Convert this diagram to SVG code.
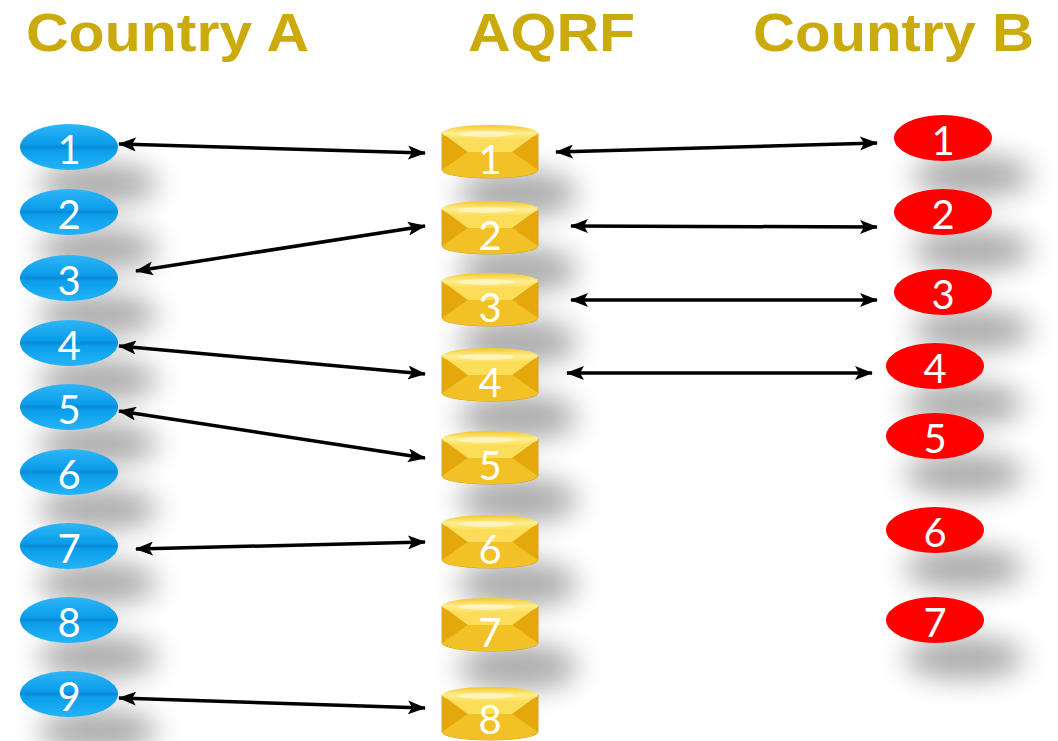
<svg xmlns="http://www.w3.org/2000/svg" xmlns:xlink="http://www.w3.org/1999/xlink" width="1058" height="741" viewBox="0 0 1058 741">
<defs>
<style>
.title{font-family:"Liberation Sans","Open Sans",sans-serif;font-weight:bold;font-size:54px;fill:#CBAA0C}
.num{font-family:"Lato","Liberation Sans",sans-serif;font-size:40px;fill:#fff;text-anchor:middle}
.red{fill:#FF0000}
.blue{fill:url(#gBlue)}
.shadow{fill:#000;opacity:0.32;filter:url(#blur)}
.conn{stroke:#000;stroke-width:3.5;fill:none;marker-start:url(#ah);marker-end:url(#ah)}
</style>
<filter id="blur" x="-60%" y="-100%" width="220%" height="300%"><feGaussianBlur stdDeviation="14"/></filter>
<linearGradient id="gBlue" x1="0" y1="0" x2="0" y2="1">
<stop offset="0" stop-color="#2EB6F7"/><stop offset="0.44" stop-color="#0A9DEA"/><stop offset="0.5" stop-color="#0A86D6"/><stop offset="0.56" stop-color="#0A9DEA"/><stop offset="1" stop-color="#24B4F7"/>
</linearGradient>
<linearGradient id="gBody" x1="0" y1="0" x2="1" y2="0">
<stop offset="0" stop-color="#E3A90A"/><stop offset="0.5" stop-color="#F8D43A"/><stop offset="1" stop-color="#E3A90A"/>
</linearGradient>
<linearGradient id="gCap" x1="0" y1="0" x2="0" y2="1">
<stop offset="0" stop-color="#F3C62A"/><stop offset="0.5" stop-color="#FFEE90"/><stop offset="1" stop-color="#F9DA50"/>
</linearGradient>
<marker id="ah" viewBox="0 0 18 14" refX="17" refY="7" markerWidth="18" markerHeight="14" markerUnits="userSpaceOnUse" orient="auto-start-reverse">
<path d="M0,0 L18,7 L0,14 L4,7 Z" fill="#000"/>
</marker>
<g id="cyl">
<path d="M-48,-19 L-48,18 A48,8 0 0 0 48,18 L48,-19 Z" fill="url(#gBody)" stroke="#C99200" stroke-width="0.8"/>
<path d="M-48,-19 L-22,0 L-48,18 Z" fill="#E5A80C"/>
<path d="M48,-19 L22,0 L48,18 Z" fill="#E5A80C"/>
<path d="M-48,-19 L-22,0 L22,0 L48,-19 Z" fill="#FBDD5A"/>
<path d="M-48,18 L-22,0 L22,0 L48,18 A48,8 0 0 1 -48,18 Z" fill="#F2C126"/>
<ellipse cx="0" cy="-19" rx="48" ry="8" fill="url(#gCap)"/>
<ellipse cx="-4" cy="-18" rx="28" ry="3" fill="#fff" opacity="0.45"/>
</g>
</defs>
<rect width="1058" height="741" fill="#fff"/>

<g id="shadows">
<ellipse class="shadow" cx="98" cy="184" rx="60" ry="22"/>
<ellipse class="shadow" cx="98" cy="249" rx="60" ry="22"/>
<ellipse class="shadow" cx="98" cy="315" rx="60" ry="22"/>
<ellipse class="shadow" cx="98" cy="380" rx="60" ry="22"/>
<ellipse class="shadow" cx="98" cy="444" rx="60" ry="22"/>
<ellipse class="shadow" cx="98" cy="509" rx="60" ry="22"/>
<ellipse class="shadow" cx="98" cy="583" rx="60" ry="22"/>
<ellipse class="shadow" cx="98" cy="657" rx="60" ry="22"/>
<ellipse class="shadow" cx="98" cy="731" rx="60" ry="22"/>
<ellipse class="shadow" cx="518" cy="194" rx="60" ry="24"/>
<ellipse class="shadow" cx="518" cy="270" rx="60" ry="24"/>
<ellipse class="shadow" cx="518" cy="342" rx="60" ry="24"/>
<ellipse class="shadow" cx="518" cy="417" rx="60" ry="24"/>
<ellipse class="shadow" cx="518" cy="500" rx="60" ry="24"/>
<ellipse class="shadow" cx="518" cy="584" rx="60" ry="24"/>
<ellipse class="shadow" cx="518" cy="667" rx="60" ry="24"/>
<ellipse class="shadow" cx="972" cy="176" rx="60" ry="22"/>
<ellipse class="shadow" cx="972" cy="250" rx="60" ry="22"/>
<ellipse class="shadow" cx="972" cy="330" rx="60" ry="22"/>
<ellipse class="shadow" cx="964" cy="404" rx="60" ry="22"/>
<ellipse class="shadow" cx="964" cy="474" rx="60" ry="22"/>
<ellipse class="shadow" cx="964" cy="568" rx="60" ry="22"/>
<ellipse class="shadow" cx="964" cy="658" rx="60" ry="22"/>
</g>

<g id="titles">
<text class="title" x="26" y="51" textLength="283" lengthAdjust="spacingAndGlyphs">Country A</text>
<text class="title" x="468" y="51" textLength="167" lengthAdjust="spacingAndGlyphs">AQRF</text>
<text class="title" x="753" y="51" textLength="281" lengthAdjust="spacingAndGlyphs">Country B</text>
</g>

<g id="a1"><ellipse class="blue" cx="69" cy="147" rx="49" ry="23"/><text class="num" x="69" y="164">1</text></g>
<g id="a2"><ellipse class="blue" cx="69" cy="212" rx="49" ry="23"/><text class="num" x="69" y="229">2</text></g>
<g id="a3"><ellipse class="blue" cx="69" cy="278" rx="49" ry="23"/><text class="num" x="69" y="295">3</text></g>
<g id="a4"><ellipse class="blue" cx="69" cy="343" rx="49" ry="23"/><text class="num" x="69" y="360">4</text></g>
<g id="a5"><ellipse class="blue" cx="69" cy="407" rx="49" ry="23"/><text class="num" x="69" y="424">5</text></g>
<g id="a6"><ellipse class="blue" cx="69" cy="472" rx="49" ry="23"/><text class="num" x="69" y="489">6</text></g>
<g id="a7"><ellipse class="blue" cx="69" cy="546" rx="49" ry="23"/><text class="num" x="69" y="563">7</text></g>
<g id="a8"><ellipse class="blue" cx="69" cy="620" rx="49" ry="23"/><text class="num" x="69" y="637">8</text></g>
<g id="a9"><ellipse class="blue" cx="69" cy="694" rx="49" ry="23"/><text class="num" x="69" y="711">9</text></g>

<g id="q1"><use xlink:href="#cyl" x="490" y="152"/><text class="num" x="490" y="174">1</text></g>
<g id="q2"><use xlink:href="#cyl" x="490" y="228"/><text class="num" x="490" y="250">2</text></g>
<g id="q3"><use xlink:href="#cyl" x="490" y="300"/><text class="num" x="490" y="322">3</text></g>
<g id="q4"><use xlink:href="#cyl" x="490" y="375"/><text class="num" x="490" y="397">4</text></g>
<g id="q5"><use xlink:href="#cyl" x="490" y="458"/><text class="num" x="490" y="480">5</text></g>
<g id="q6"><use xlink:href="#cyl" x="490" y="542"/><text class="num" x="490" y="564">6</text></g>
<g id="q7"><use xlink:href="#cyl" x="490" y="625"/><text class="num" x="490" y="647">7</text></g>
<g id="q8"><use xlink:href="#cyl" x="490" y="714"/><text class="num" x="490" y="734">8</text></g>

<g id="b1"><ellipse class="red" cx="943" cy="138" rx="49" ry="23"/><text class="num" x="943" y="155">1</text></g>
<g id="b2"><ellipse class="red" cx="943" cy="212" rx="49" ry="23"/><text class="num" x="943" y="229">2</text></g>
<g id="b3"><ellipse class="red" cx="943" cy="292" rx="49" ry="23"/><text class="num" x="943" y="309">3</text></g>
<g id="b4"><ellipse class="red" cx="935" cy="366" rx="49" ry="23"/><text class="num" x="935" y="383">4</text></g>
<g id="b5"><ellipse class="red" cx="935" cy="436" rx="49" ry="23"/><text class="num" x="935" y="453">5</text></g>
<g id="b6"><ellipse class="red" cx="935" cy="530" rx="49" ry="23"/><text class="num" x="935" y="547">6</text></g>
<g id="b7"><ellipse class="red" cx="935" cy="620" rx="49" ry="23"/><text class="num" x="935" y="637">7</text></g>

<g id="connectors">
<path class="conn" d="M119,144 L425,153"/>
<path class="conn" d="M556,152 L877,143"/>
<path class="conn" d="M136,271 L425,226"/>
<path class="conn" d="M571,226 L877,227"/>
<path class="conn" d="M571,300 L877,300"/>
<path class="conn" d="M119,346 L425,374"/>
<path class="conn" d="M567,373 L872,373"/>
<path class="conn" d="M119,411 L425,458"/>
<path class="conn" d="M136,549 L425,542"/>
<path class="conn" d="M119,698 L425,708"/>
</g>
</svg>
